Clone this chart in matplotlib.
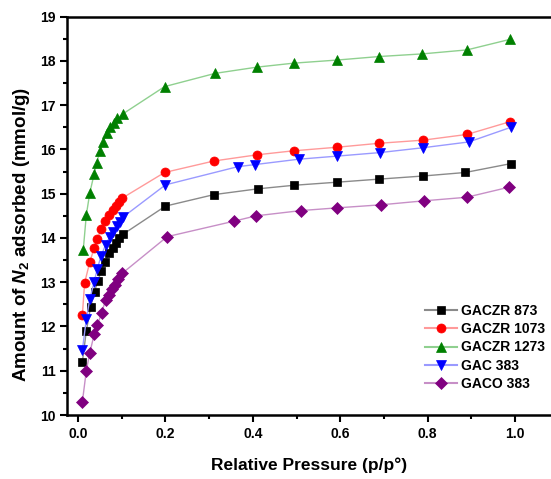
import matplotlib
matplotlib.use("Agg")
import matplotlib.pyplot as plt
from matplotlib.ticker import MultipleLocator

plt.rcParams['font.family'] = ['Liberation Sans', 'DejaVu Sans']
plt.rcParams['font.weight'] = 'bold'
plt.rcParams['mathtext.fontset'] = 'custom'
plt.rcParams['mathtext.rm'] = 'Liberation Sans:bold'
plt.rcParams['mathtext.it'] = 'Liberation Sans:italic:bold'
plt.rcParams['mathtext.bf'] = 'Liberation Sans:bold'

labels = ["GACZR 873", "GACZR 1073", "GACZR 1273", "GAC 383", "GACO 383"]

x_873 = [0.010, 0.019, 0.029, 0.038, 0.045, 0.053, 0.062, 0.071, 0.079, 0.086, 0.094, 0.104,
         0.200, 0.311, 0.411, 0.493, 0.592, 0.689, 0.789, 0.886, 0.990]
y_873 = [11.20, 11.90, 12.45, 12.79, 13.02, 13.25, 13.46, 13.65, 13.78, 13.88, 13.99, 14.09,
         14.72, 14.98, 15.11, 15.19, 15.26, 15.33, 15.40, 15.48, 15.68]

x_1073 = [0.010, 0.015, 0.027, 0.037, 0.044, 0.053, 0.062, 0.072, 0.079, 0.086, 0.094, 0.101,
          0.198, 0.311, 0.410, 0.493, 0.592, 0.689, 0.789, 0.890, 0.989]
y_1073 = [12.26, 12.98, 13.46, 13.77, 13.97, 14.20, 14.39, 14.52, 14.63, 14.72, 14.82, 14.90,
          15.48, 15.74, 15.88, 15.97, 16.05, 16.14, 16.21, 16.34, 16.63]

x_1273 = [0.012, 0.019, 0.027, 0.037, 0.043, 0.050, 0.057, 0.066, 0.074, 0.082, 0.090, 0.102,
          0.198, 0.314, 0.409, 0.493, 0.592, 0.689, 0.788, 0.890, 0.989]
y_1273 = [13.73, 14.52, 15.02, 15.45, 15.70, 15.97, 16.16, 16.37, 16.50, 16.60, 16.70, 16.80,
          17.42, 17.72, 17.86, 17.95, 18.02, 18.10, 18.16, 18.25, 18.49]

x_gac = [0.010, 0.019, 0.027, 0.037, 0.044, 0.053, 0.063, 0.073, 0.081, 0.089, 0.096, 0.104,
         0.200, 0.365, 0.406, 0.505, 0.593, 0.691, 0.790, 0.894, 0.990]
y_gac = [11.47, 12.16, 12.62, 13.01, 13.30, 13.60, 13.84, 14.03, 14.14, 14.26, 14.37, 14.48,
         15.20, 15.61, 15.66, 15.78, 15.85, 15.93, 16.04, 16.17, 16.50]

x_gaco = [0.010, 0.019, 0.027, 0.037, 0.044, 0.054, 0.063, 0.070, 0.077, 0.084, 0.092, 0.101,
          0.204, 0.357, 0.407, 0.511, 0.592, 0.694, 0.792, 0.889, 0.987]
y_gaco = [10.30, 11.00, 11.41, 11.82, 12.03, 12.30, 12.60, 12.71, 12.84, 12.94, 13.07, 13.20,
          14.03, 14.38, 14.50, 14.62, 14.68, 14.75, 14.84, 14.92, 15.15]

series = [(x_873, y_873), (x_1073, y_1073), (x_1273, y_1273), (x_gac, y_gac), (x_gaco, y_gaco)]
markers = ['s', 'o', '^', 'v', 'D']
mcolors = ['#000000', '#ff0000', '#008000', '#0000ff', '#800080']
lcolors = ['#8a8a8a', '#ff9a9a', '#8fd08f', '#9a9aff', '#c78fc7']
msizes = [5.8, 6.5, 7.0, 7.0, 5.8]

fig = plt.figure(figsize=(5.51, 4.79), dpi=100)
ax = fig.add_axes([67.3 / 551, 64 / 479, 1 - 67.3 / 551, (415 - 16.7) / 479])

for (xs, ys), m, mc, lc, ms, lab in zip(series, markers, mcolors, lcolors, msizes, labels):
    ax.plot(xs, ys, color=lc, lw=1.0, marker=m, markersize=ms,
            markerfacecolor=mc, markeredgecolor=mc, markeredgewidth=0.5, label=lab)

ax.set_xlim(-0.0245, 1.082)
ax.set_ylim(10, 19)
ax.xaxis.set_major_locator(MultipleLocator(0.2))
ax.xaxis.set_minor_locator(MultipleLocator(0.1))
ax.yaxis.set_major_locator(MultipleLocator(1))
ax.yaxis.set_minor_locator(MultipleLocator(0.5))
ax.set_xticks([0.0, 0.2, 0.4, 0.6, 0.8, 1.0])
ax.set_xticklabels(['0.0', '0.2', '0.4', '0.6', '0.8', '1.0'])

ax.spines['right'].set_visible(False)
for s in ['left', 'bottom', 'top']:
    ax.spines[s].set_linewidth(1.8)
ax.tick_params(which='major', direction='out', length=5, width=1.5, labelsize=10, top=False, right=False)
ax.tick_params(which='minor', direction='out', length=3, width=1.5, top=False, right=False)
for lbl in ax.get_xticklabels() + ax.get_yticklabels():
    lbl.set_fontweight('bold')

ax.set_xlabel('Relative Pressure (p/p°)', fontsize=12.5, fontweight='bold', labelpad=12)
fig.text(22 / 551, (479 - 382) / 479, r'Amount of $\mathit{N}_{2}$ adsorbed (mmol/g)',
         rotation=90, ha='center', va='bottom', fontsize=13.5, fontweight='bold')

leg = ax.legend(loc='lower right', bbox_to_anchor=(1.005, 0.04), frameon=False,
                prop={'weight': 'bold', 'size': 10}, handlelength=2.3,
                labelspacing=0.3, handletextpad=0.3, borderaxespad=0.2)
for h in leg.get_lines():
    h.set_linewidth(1.5)

fig.savefig('out.png', dpi=100)
